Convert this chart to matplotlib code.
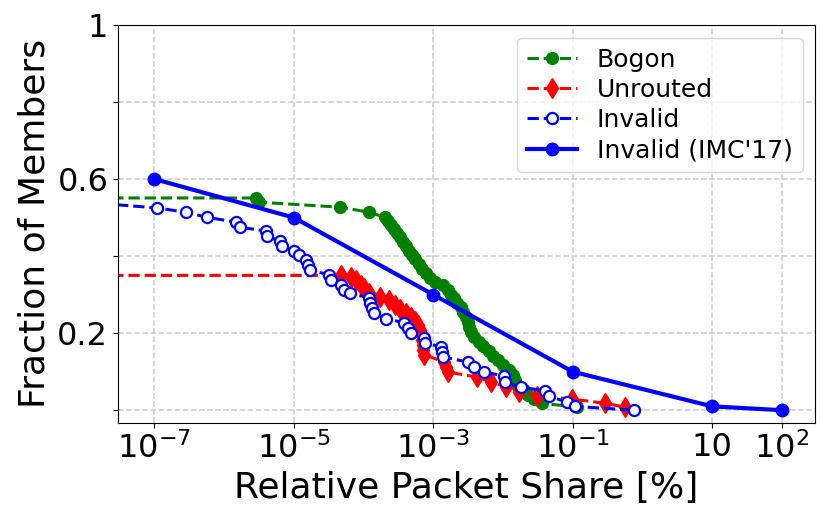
import matplotlib
matplotlib.use("Agg")
import matplotlib.pyplot as plt

# ---- data ----
bogon_x = [1e-9, 2.9e-6, 3.2e-6, 4.6e-5, 1.2e-4, 2.0e-4, 2.25e-4, 2.5e-4, 2.75e-4, 3.0e-4,
           3.35e-4, 3.7e-4, 4.1e-4, 4.5e-4, 5.0e-4, 5.5e-4, 6.3e-4, 7.0e-4, 7.9e-4, 9.1e-4,
           1.07e-3, 1.4e-3, 1.6e-3, 1.8e-3, 2.0e-3, 2.2e-3, 2.5e-3, 2.7e-3, 2.9e-3, 3.1e-3,
           3.3e-3, 3.5e-3, 3.9e-3, 4.6e-3, 5.2e-3, 6.2e-3, 7.3e-3, 8.6e-3, 1.0e-2, 1.2e-2,
           1.37e-2, 1.5e-2, 1.6e-2, 2.0e-2, 2.3e-2, 2.8e-2, 3.6e-2, 0.115]
bogon_y = [0.551, 0.551, 0.540, 0.527, 0.514, 0.501, 0.491, 0.480, 0.470, 0.460,
           0.449, 0.436, 0.426, 0.413, 0.402, 0.392, 0.379, 0.366, 0.355, 0.342,
           0.332, 0.326, 0.313, 0.300, 0.290, 0.279, 0.269, 0.256, 0.243, 0.230,
           0.217, 0.204, 0.191, 0.178, 0.167, 0.154, 0.141, 0.131, 0.117, 0.104,
           0.091, 0.078, 0.065, 0.052, 0.039, 0.029, 0.018, 0.008]

unrouted_x = [1e-9, 4.7e-5, 6.6e-5, 7.8e-5, 9.2e-5, 1.0e-4, 1.2e-4, 1.7e-4, 2.3e-4, 2.8e-4,
              3.35e-4, 4.1e-4, 4.8e-4, 5.5e-4, 6.1e-4, 6.5e-4, 7.0e-4, 7.0e-4, 7.2e-4, 7.2e-4,
              7.4e-4, 1.44e-3, 1.54e-3, 1.64e-3, 4.2e-3, 6.8e-3, 1.12e-2, 1.7e-2, 3.1e-2, 9.7e-2,
              0.29, 0.56]
unrouted_y = [0.350, 0.350, 0.345, 0.337, 0.326, 0.316, 0.305, 0.295, 0.285, 0.274,
              0.264, 0.253, 0.243, 0.232, 0.222, 0.209, 0.196, 0.183, 0.170, 0.157,
              0.144, 0.125, 0.112, 0.099, 0.086, 0.073, 0.060, 0.047, 0.037, 0.029,
              0.018, 0.008]

invalid_x = [1e-8, 1.1e-7, 2.8e-7, 5.6e-7, 1.5e-6, 1.7e-6, 4.0e-6, 4.1e-6, 6.3e-6, 6.7e-6,
             1.0e-5, 1.2e-5, 1.5e-5, 1.6e-5, 1.7e-5, 3.2e-5, 3.4e-5, 4.7e-5, 5.2e-5, 6.4e-5,
             1.2e-4, 1.25e-4, 1.3e-4, 1.4e-4, 2.1e-4, 3.8e-4, 4.4e-4, 4.8e-4, 7.4e-4, 7.7e-4,
             1.3e-3, 1.35e-3, 1.4e-3, 3.1e-3, 3.9e-3, 5.4e-3, 1.05e-2, 1.07e-2, 1.8e-2, 4.0e-2,
             4.5e-2, 8.2e-2, 0.107, 0.76]
invalid_y = [0.540, 0.525, 0.514, 0.501, 0.488, 0.475, 0.465, 0.452, 0.439, 0.426,
             0.413, 0.402, 0.389, 0.376, 0.363, 0.352, 0.339, 0.324, 0.313, 0.303,
             0.292, 0.279, 0.266, 0.253, 0.238, 0.227, 0.214, 0.201, 0.188, 0.175,
             0.164, 0.151, 0.138, 0.125, 0.112, 0.099, 0.089, 0.073, 0.060, 0.050,
             0.037, 0.021, 0.010, 0.000]

imc_x = [1e-7, 1e-5, 1e-3, 1e-1, 10, 100]
imc_y = [0.60, 0.50, 0.30, 0.10, 0.01, 0.00]

labels = ["Bogon", "Unrouted", "Invalid", "Invalid (IMC'17)"]

xticks = [1e-7, 1e-5, 1e-3, 1e-1, 10, 100]
xticklabels = [r"$10^{-7}$", r"$10^{-5}$", r"$10^{-3}$", r"$10^{-1}$", "10", r"$10^{2}$"]
yticks = [0, 0.2, 0.4, 0.6, 0.8, 1.0]
yticklabels = ["", "0.2", "", "0.6", "", "1"]

# ---- plot ----
fig = plt.figure(figsize=(8.3, 5.21), dpi=100)
ax = fig.add_axes([0.1422, 0.189, 0.8398, 0.763])

ax.plot(bogon_x, bogon_y, ls="--", color="green", marker="o", ms=8.5, lw=2.2, label=labels[0])
ax.plot(unrouted_x, unrouted_y, ls="--", color="red", marker="d", ms=10, lw=2.2, label=labels[1])
ax.plot(invalid_x, invalid_y, ls="--", color="blue", marker="o", ms=8, mfc="white",
        mew=1.6, lw=2.2, label=labels[2])
ax.plot(imc_x, imc_y, ls="-", color="blue", marker="o", ms=9, lw=3, label=labels[3])

ax.set_xscale("log")
ax.set_xlim(3e-8, 3e2)
ax.set_ylim(-0.032, 1.0)
ax.set_xticks(xticks)
ax.set_xticklabels(xticklabels)
ax.xaxis.set_minor_locator(matplotlib.ticker.NullLocator())
ax.set_yticks(yticks)
ax.set_yticklabels(yticklabels)
ax.tick_params(labelsize=23)
ax.grid(True, ls="--", color="#cccccc", lw=1.1)
ax.set_axisbelow(True)

ax.set_xlabel("Relative Packet Share [%]", fontsize=26)
ax.set_ylabel("Fraction of Members", fontsize=26)

ax.legend(loc="upper right", fontsize=18, labelspacing=0.25)

fig.savefig("out.png", dpi=100)
